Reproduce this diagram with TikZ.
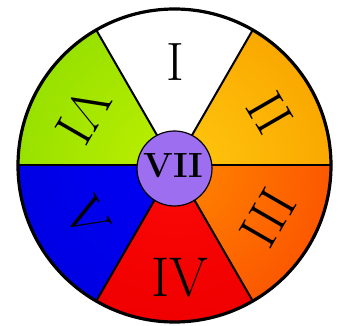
\documentclass[tikz,border=0pt]{standalone}
\begin{document}
\begin{tikzpicture}[x=1pt,y=1pt,
  numeral/.style={inner sep=0pt, font=\fontsize{54}{54}\selectfont},
  hubtext/.style={inner sep=0pt, font=\fontsize{35}{35}\selectfont\bfseries},
  spoke/.style={line width=2pt, black},
  rim/.style={line width=3.2pt, black},
  hubdisc/.style={fill=hubpurple, draw=black, line width=1.2pt}]
\definecolor{ylwin}{RGB}{255,200,15}
\definecolor{ylwout}{RGB}{250,168,0}
\definecolor{orgin}{RGB}{255,135,0}
\definecolor{orgout}{RGB}{252,88,0}
\definecolor{redin}{RGB}{252,8,8}
\definecolor{redout}{RGB}{240,0,0}
\definecolor{bluin}{RGB}{0,0,245}
\definecolor{bluout}{RGB}{0,0,228}
\definecolor{grnin}{RGB}{190,240,0}
\definecolor{grnout}{RGB}{152,225,0}
\definecolor{hubpurple}{RGB}{158,110,240}
\useasboundingbox (-174.5,-160.5) rectangle (163.5,165.5);
\fill[white] (-174.5,-160.5) rectangle (163.5,165.5);
\def\R{156.5}
\coordinate (c) at (0,0);
% sectors
\foreach \a/\b/\ci/\co in {0/60/ylwin/ylwout, 60/120/white/white, 120/180/grnin/grnout, 180/240/bluin/bluout, 240/300/redin/redout, 300/360/orgin/orgout}{
  \begin{scope}
    \clip (c) -- (\a:\R) arc[start angle=\a, end angle=\b, radius=\R] -- cycle;
    \shade[inner color=\ci, outer color=\co] (c) circle (\R);
  \end{scope}
}
% spokes
\foreach \a in {0,60,...,300}{
  \coordinate (s\a) at (\a:\R);
  \draw[spoke] (c) -- (s\a);
}
\draw[rim] (c) circle (\R);
% hub
\node[hubdisc, circle, minimum size=75pt, inner sep=0pt] (hub) at (0,-3) {};
\node[hubtext] (l7) at (-1,0) {VII};
% labels
\node[numeral] (l1) at (0.5,103.5) {I};
\node[numeral, rotate=-60] (l2) at (95.5,52.5) {II};
\node[numeral, rotate=-120] (l3) at (93.5,-52) {III};
\node[numeral, font=\fontsize{56}{56}\selectfont] (l4) at (5.5,-112.5) {IV};
\node[numeral, rotate=-60] (l5) at (-87.5,-52.5) {V};
\node[numeral, rotate=-120] (l6) at (-91.5,50.5) {VI};
\end{tikzpicture}
\end{document}
